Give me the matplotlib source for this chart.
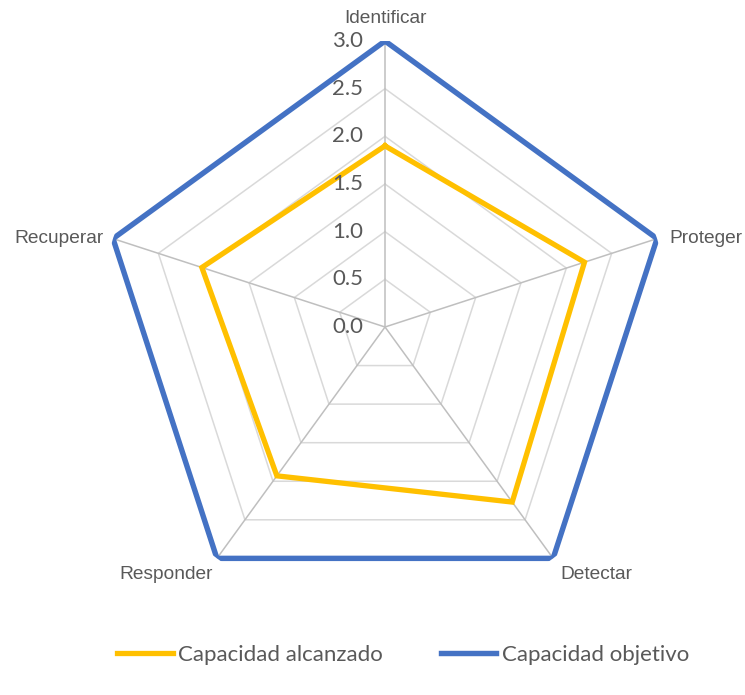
import numpy as np
import matplotlib.pyplot as plt
from matplotlib.transforms import offset_copy

categorias = ["Identificar", "Proteger", "Detectar", "Responder", "Recuperar"]
alcanzado = [1.9, 2.2, 2.27, 1.93, 2.02]
objetivo = [3.0, 3.0, 3.0, 3.0, 3.0]
anillos = [0.5, 1.0, 1.5, 2.0, 2.5, 3.0]
etiquetas_r = ["0.0", "0.5", "1.0", "1.5", "2.0", "2.5", "3.0"]

n = len(categorias)
ang = np.linspace(0, 2 * np.pi, n, endpoint=False)
ang_c = np.append(ang, ang[0])

fig = plt.figure(figsize=(7.45, 6.95), dpi=100)
ax = fig.add_axes([0.1329, 0.1180, 0.7678, 0.8230], projection="polar")
ax.set_theta_offset(np.pi / 2)
ax.set_theta_direction(-1)
ax.set_ylim(0, 3)
ax.grid(False)
ax.spines["polar"].set_visible(False)
ax.set_xticks([])
ax.set_yticks([])

# rejilla poligonal tipo Excel
for r in anillos:
    ax.plot(ang_c, [r] * (n + 1), color="#d9d9d9", lw=1.1, zorder=1)
for a in ang:
    ax.plot([a, a], [0, 3], color="#bfbfbf", lw=1.1, zorder=1)

ax.plot(ang_c, alcanzado + alcanzado[:1], color="#ffc000", lw=3.8, zorder=3,
        label="Capacidad alcanzado", solid_joinstyle="miter")
ax.plot(ang_c, objetivo + objetivo[:1], color="#4472c4", lw=3.9, zorder=3,
        label="Capacidad objetivo", solid_joinstyle="miter")

# etiquetas del eje radial
tr = offset_copy(ax.transData, fig=fig, x=-22, y=0, units="dots")
for i, lab in enumerate(etiquetas_r):
    ax.text(0, i * 0.5, lab, transform=tr, ha="right", va="center",
            fontsize=16, color="#595959", family="Lato")

# etiquetas de categorias
offs = [(0, 23, "center"), (12, 0, "left"), (7, -16, "left"),
        (-4, -16, "right"), (-9, 0, "right")]
for a, lab, (dx, dy, ha) in zip(ang, categorias, offs):
    t = offset_copy(ax.transData, fig=fig, x=dx, y=dy, units="dots")
    ax.text(a, 3, lab, transform=t, ha=ha, va="center", fontsize=13.8,
            color="#595959", family="Liberation Sans")

leg = fig.legend(loc="center", bbox_to_anchor=(403 / 745, 1 - 655 / 695), ncol=2,
                 frameon=False, handlelength=2.5, columnspacing=2.6,
                 handletextpad=0.25, prop={"family": "Lato", "size": 16})
for t in leg.get_texts():
    t.set_color("#595959")

fig.savefig("out.png", dpi=100)
